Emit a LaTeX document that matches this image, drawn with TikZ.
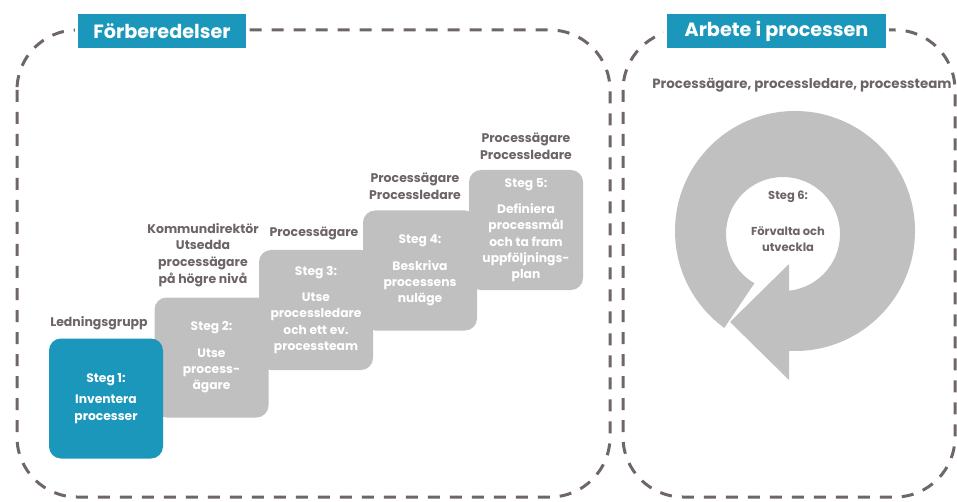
\documentclass[tikz,border=0pt]{standalone}
\usepackage{fontspec}
\setmainfont{Poppins}
\usetikzlibrary{calc}
\definecolor{tealfill}{HTML}{1A97BB}
\definecolor{stepgray}{HTML}{C0C0C0}
\definecolor{inkgray}{HTML}{6D6467}
\definecolor{dashgray}{HTML}{6F6668}
\begin{document}
\begin{tikzpicture}[x=1pt,y=-1pt,
  phasebox/.style={draw=dashgray, line width=3pt, dash pattern=on 12pt off 10pt, rounded corners=60pt},
  titlebox/.style={fill=tealfill, draw=white, line width=3pt, text=white,
    font=\bfseries\fontsize{19.2}{22}\selectfont, minimum height=37pt, inner sep=0pt},
  stepbox/.style={fill=stepgray, rounded corners=12pt, minimum width=114pt, minimum height=120pt,
    text=white, align=center, font=\bfseries\fontsize{12.3}{16.3}\selectfont, inner sep=0pt},
  role/.style={text=inkgray, align=center, font=\bfseries\fontsize{12.5}{16.7}\selectfont, inner sep=0pt},
]
\useasboundingbox (0,0) rectangle (957,502);

% dashed phase frames
\draw[phasebox] (17,30) rectangle (610,497);
\draw[phasebox] (623,30) rectangle (955,497);

% phase titles
\node[titlebox, minimum width=171pt] (prep) at (162,31) {Förberedelser};
\node[titlebox, minimum width=222pt] (work) at (776.5,31) {Arbete i processen};

% preparation steps (later steps drawn first so earlier ones overlap them)
\node[stepbox] (s5) at (526,230) {Steg 5:\\[10pt]Definiera\\processmål\\och ta fram\\uppföljnings-\\plan};
\node[stepbox] (s4) at (420,270.5) {Steg 4:\\[10pt]Beskriva\\processens\\nuläge};
\node[stepbox] (s3) at (316,310) {Steg 3:\\[10pt]Utse\\processledare\\och ett ev.\\processteam};
\node[stepbox] (s2) at (211.5,357.5) {Steg 2:\\[10pt]Utse\\process-\\ägare};
\node[stepbox, fill=tealfill] (s1) at (106,398.5) {Steg 1:\\[5pt]Inventera\\processer};

% responsible roles
\node[role] (r1) at (99,323) {Ledningsgrupp};
\node[role] (r2) at (203,255) {Kommundirektör\\Utsedda\\processägare\\på högre nivå};
\node[role] (r3) at (314,233) {Processägare};
\node[role] (r4) at (415,186.5) {Processägare\\Processledare};
\node[role] (r5) at (526,146.5) {Processägare\\Processledare};
\node[role, font=\bfseries\fontsize{13.4}{16.7}\selectfont] (r6) at (802,85) {Processägare, processledare, processteam};

% circular arrow for step 6
\begin{scope}
  \clip[shift={(789,232)}] (0,0) -- (124:200) -- (180:200) -- (270:200) -- (360:200) -- (450:200) -- cycle;
  \fill[stepgray, even odd rule] (795,231) circle (120) (783,234) circle (57);
\end{scope}
\fill[stepgray] (730,322) -- (789,264) -- (789,380) -- cycle;

\node[text=inkgray, align=center, font=\bfseries\fontsize{11.5}{15.5}\selectfont, inner sep=0pt]
  (s6) at (788,221) {Steg 6:\\[21pt]Förvalta och\\utveckla};
\end{tikzpicture}
\end{document}
